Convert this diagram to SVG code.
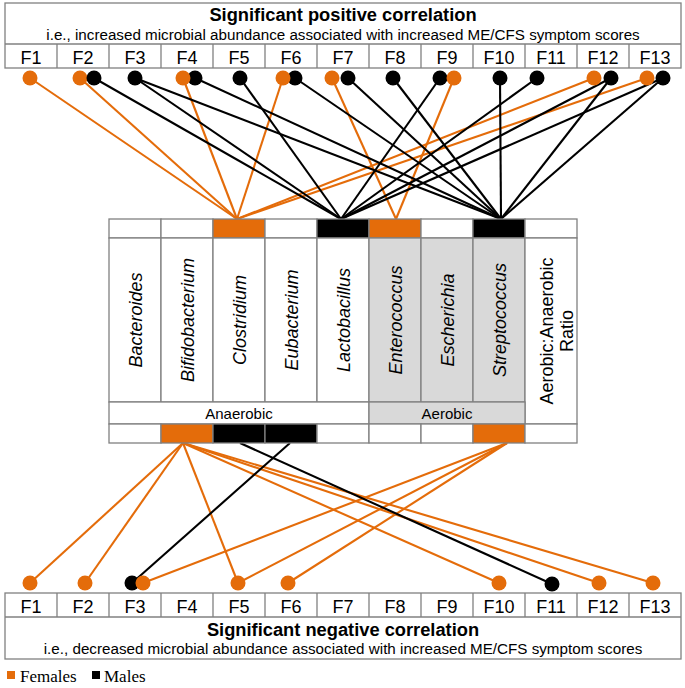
<svg xmlns="http://www.w3.org/2000/svg" width="685" height="688" viewBox="0 0 685 688">
<style>
.box{fill:#fff;stroke:#808080;stroke-width:1.3}
.gbox{fill:#d9d9d9;stroke:#808080;stroke-width:1.3}
.div{stroke:#808080;stroke-width:1.3}
.t{font-family:"Liberation Sans",Arial,Helvetica,sans-serif;fill:#000}
.ttl{font-size:18.3px;font-weight:bold;text-anchor:middle}
.sub{font-size:15.2px;text-anchor:middle}
.f{font-size:18px;text-anchor:middle}
.gen{font-size:18px;font-style:italic;text-anchor:middle}
.grp{font-size:15px;text-anchor:middle}
.or{fill:#e46c0a}
.bk{fill:#000}
.lo{stroke:#e46c0a;stroke-width:2.1;fill:none}
.lb{stroke:#000;stroke-width:2.1;fill:none}
.leg{font-family:"Liberation Serif","Times New Roman",serif;font-size:17px;fill:#000}
</style>

<g id="connectors">
  <line class="lo" x1="30" y1="78" x2="237" y2="219"/>
  <line class="lo" x1="80" y1="78" x2="237" y2="219"/>
  <line class="lo" x1="183" y1="78" x2="237" y2="219"/>
  <line class="lo" x1="283" y1="78" x2="237" y2="219"/>
  <line class="lo" x1="594" y1="78" x2="237" y2="219"/>
  <line class="lo" x1="647" y1="78" x2="237" y2="219"/>
  <line class="lo" x1="332" y1="78" x2="396" y2="219"/>
  <line class="lo" x1="454" y1="78" x2="396" y2="219"/>
  <line class="lb" x1="94" y1="78" x2="341" y2="219"/>
  <line class="lb" x1="135" y1="78" x2="341" y2="219"/>
  <line class="lb" x1="240" y1="78" x2="341" y2="219"/>
  <line class="lb" x1="440" y1="78" x2="341" y2="219"/>
  <line class="lb" x1="537" y1="78" x2="341" y2="219"/>
  <line class="lb" x1="611" y1="78" x2="341" y2="219"/>
  <line class="lb" x1="663" y1="78" x2="341" y2="219"/>
  <line class="lb" x1="135" y1="78" x2="501" y2="219"/>
  <line class="lb" x1="195" y1="78" x2="501" y2="219"/>
  <line class="lb" x1="295" y1="78" x2="501" y2="219"/>
  <line class="lb" x1="348" y1="78" x2="501" y2="219"/>
  <line class="lb" x1="393" y1="78" x2="501" y2="219"/>
  <line class="lb" x1="500" y1="78" x2="501" y2="219"/>
  <line class="lb" x1="611" y1="78" x2="501" y2="219"/>
  <line class="lb" x1="663" y1="78" x2="501" y2="219"/>
  <line class="lo" x1="183" y1="443" x2="30" y2="583"/>
  <line class="lo" x1="183" y1="443" x2="85" y2="583"/>
  <line class="lo" x1="183" y1="443" x2="238" y2="583"/>
  <line class="lo" x1="183" y1="443" x2="499" y2="583"/>
  <line class="lo" x1="183" y1="443" x2="599" y2="583"/>
  <line class="lo" x1="183" y1="443" x2="653" y2="583"/>
  <line class="lo" x1="507" y1="443" x2="143" y2="583"/>
  <line class="lo" x1="507" y1="443" x2="238" y2="583"/>
  <line class="lo" x1="507" y1="443" x2="288" y2="583"/>
  <line class="lb" x1="240" y1="443" x2="552" y2="584"/>
  <line class="lb" x1="290" y1="443" x2="132" y2="583"/>
</g>

<g id="top-header">
  <rect class="box" x="5" y="3" width="676" height="65"/>
  <line class="div" x1="5" y1="44" x2="681" y2="44"/>
  <g class="div">
    <line x1="57" y1="44" x2="57" y2="68"/><line x1="109" y1="44" x2="109" y2="68"/>
    <line x1="161" y1="44" x2="161" y2="68"/><line x1="213" y1="44" x2="213" y2="68"/>
    <line x1="265" y1="44" x2="265" y2="68"/><line x1="317" y1="44" x2="317" y2="68"/>
    <line x1="369" y1="44" x2="369" y2="68"/><line x1="421" y1="44" x2="421" y2="68"/>
    <line x1="473" y1="44" x2="473" y2="68"/><line x1="525" y1="44" x2="525" y2="68"/>
    <line x1="577" y1="44" x2="577" y2="68"/><line x1="629" y1="44" x2="629" y2="68"/>
  </g>
  <text class="t ttl" x="343" y="21">Significant positive correlation</text>
  <text class="t sub" x="343" y="40">i.e., increased microbial abundance associated with increased ME/CFS symptom scores</text>
  <g class="t f">
    <text x="31" y="64">F1</text><text x="83" y="64">F2</text><text x="135" y="64">F3</text>
    <text x="187" y="64">F4</text><text x="239" y="64">F5</text><text x="291" y="64">F6</text>
    <text x="343" y="64">F7</text><text x="395" y="64">F8</text><text x="447" y="64">F9</text>
    <text x="499" y="64">F10</text><text x="551" y="64">F11</text><text x="603" y="64">F12</text>
    <text x="655" y="64">F13</text>
  </g>
</g>

<g id="top-circles">
  <circle class="or" cx="30" cy="78" r="7.5"/>
  <circle class="or" cx="80" cy="78" r="7.5"/><circle class="bk" cx="94" cy="78" r="7.5"/>
  <circle class="bk" cx="135" cy="78" r="7.5"/>
  <circle class="bk" cx="195" cy="78" r="7.5"/><circle class="or" cx="183" cy="78" r="7.5"/>
  <circle class="bk" cx="240" cy="78" r="7.5"/>
  <circle class="bk" cx="295" cy="78" r="7.5"/><circle class="or" cx="283" cy="78" r="7.5"/>
  <circle class="or" cx="332" cy="78" r="7.5"/><circle class="bk" cx="348" cy="78" r="7.5"/>
  <circle class="bk" cx="393" cy="78" r="7.5"/>
  <circle class="bk" cx="440" cy="78" r="7.5"/><circle class="or" cx="454" cy="78" r="7.5"/>
  <circle class="bk" cx="500" cy="78" r="7.5"/>
  <circle class="bk" cx="537" cy="78" r="7.5"/>
  <circle class="or" cx="594" cy="78" r="7.5"/><circle class="bk" cx="611" cy="78" r="7.5"/>
  <circle class="or" cx="647" cy="78" r="7.5"/><circle class="bk" cx="663" cy="78" r="7.5"/>
</g>

<g id="table">
  <rect class="box" x="109" y="219" width="52" height="19"/>
  <rect class="box" x="161" y="219" width="52" height="19"/>
  <rect class="box" x="213" y="219" width="52" height="19" style="fill:#e46c0a"/>
  <rect class="box" x="265" y="219" width="52" height="19"/>
  <rect class="box" x="317" y="219" width="52" height="19" style="fill:#000"/>
  <rect class="box" x="369" y="219" width="52" height="19" style="fill:#e46c0a"/>
  <rect class="box" x="421" y="219" width="52" height="19"/>
  <rect class="box" x="473" y="219" width="52" height="19" style="fill:#000"/>
  <rect class="box" x="525" y="219" width="52" height="19"/>
  <g id="bacteroides"><rect class="box" x="109" y="238" width="52" height="164"/>
    <text class="t gen" transform="translate(141.5,320) rotate(-90)">Bacteroides</text></g>
  <g id="bifidobacterium"><rect class="box" x="161" y="238" width="52" height="164"/>
    <text class="t gen" transform="translate(193.5,320) rotate(-90)">Bifidobacterium</text></g>
  <g id="clostridium"><rect class="box" x="213" y="238" width="52" height="164"/>
    <text class="t gen" transform="translate(245.5,320) rotate(-90)">Clostridium</text></g>
  <g id="eubacterium"><rect class="box" x="265" y="238" width="52" height="164"/>
    <text class="t gen" transform="translate(297.5,320) rotate(-90)">Eubacterium</text></g>
  <g id="lactobacillus"><rect class="box" x="317" y="238" width="52" height="164"/>
    <text class="t gen" transform="translate(349.5,320) rotate(-90)">Lactobacillus</text></g>
  <g id="enterococcus"><rect class="gbox" x="369" y="238" width="52" height="164"/>
    <text class="t gen" transform="translate(401.5,320) rotate(-90)">Enterococcus</text></g>
  <g id="escherichia"><rect class="gbox" x="421" y="238" width="52" height="164"/>
    <text class="t gen" transform="translate(453.5,320) rotate(-90)">Escherichia</text></g>
  <g id="streptococcus"><rect class="gbox" x="473" y="238" width="52" height="164"/>
    <text class="t gen" transform="translate(505.5,320) rotate(-90)">Streptococcus</text></g>
  <g id="ratio"><rect class="box" x="525" y="238" width="52" height="186"/>
    <text class="t gen" style="font-style:normal" transform="translate(553,331) rotate(-90)">Aerobic:Anaerobic</text>
    <text class="t gen" style="font-style:normal" transform="translate(573,331) rotate(-90)">Ratio</text></g>
  <g id="anaerobic"><rect class="box" x="109" y="402" width="260" height="22"/>
    <text class="t grp" x="239" y="418.5">Anaerobic</text></g>
  <g id="aerobic"><rect class="gbox" x="369" y="402" width="156" height="22"/>
    <text class="t grp" x="447" y="418.5">Aerobic</text></g>
  <rect class="box" x="109" y="424" width="52" height="19"/>
  <rect class="box" x="161" y="424" width="52" height="19" style="fill:#e46c0a"/>
  <rect class="box" x="213" y="424" width="52" height="19" style="fill:#000"/>
  <rect class="box" x="265" y="424" width="52" height="19" style="fill:#000"/>
  <rect class="box" x="317" y="424" width="52" height="19"/>
  <rect class="box" x="369" y="424" width="52" height="19"/>
  <rect class="box" x="421" y="424" width="52" height="19"/>
  <rect class="box" x="473" y="424" width="52" height="19" style="fill:#e46c0a"/>
  <rect class="box" x="525" y="424" width="52" height="19"/>
</g>

<g id="bottom-circles">
  <circle class="or" cx="30" cy="583" r="7.5"/>
  <circle class="or" cx="85" cy="583" r="7.5"/>
  <circle class="bk" cx="132" cy="583" r="7.5"/><circle class="or" cx="143" cy="583" r="7.5"/>
  <circle class="or" cx="238" cy="583" r="7.5"/>
  <circle class="or" cx="288" cy="583" r="7.5"/>
  <circle class="or" cx="499" cy="583" r="7.5"/>
  <circle class="bk" cx="552" cy="584" r="7.5"/>
  <circle class="or" cx="599" cy="583" r="7.5"/>
  <circle class="or" cx="653" cy="583" r="7.5"/>
</g>

<g id="bottom-header">
  <rect class="box" x="5" y="593" width="676" height="66"/>
  <line class="div" x1="5" y1="617" x2="681" y2="617"/>
  <g class="div">
    <line x1="57" y1="593" x2="57" y2="617"/><line x1="109" y1="593" x2="109" y2="617"/>
    <line x1="161" y1="593" x2="161" y2="617"/><line x1="213" y1="593" x2="213" y2="617"/>
    <line x1="265" y1="593" x2="265" y2="617"/><line x1="317" y1="593" x2="317" y2="617"/>
    <line x1="369" y1="593" x2="369" y2="617"/><line x1="421" y1="593" x2="421" y2="617"/>
    <line x1="473" y1="593" x2="473" y2="617"/><line x1="525" y1="593" x2="525" y2="617"/>
    <line x1="577" y1="593" x2="577" y2="617"/><line x1="629" y1="593" x2="629" y2="617"/>
  </g>
  <g class="t f">
    <text x="31" y="612.5">F1</text><text x="83" y="612.5">F2</text><text x="135" y="612.5">F3</text>
    <text x="187" y="612.5">F4</text><text x="239" y="612.5">F5</text><text x="291" y="612.5">F6</text>
    <text x="343" y="612.5">F7</text><text x="395" y="612.5">F8</text><text x="447" y="612.5">F9</text>
    <text x="499" y="612.5">F10</text><text x="551" y="612.5">F11</text><text x="603" y="612.5">F12</text>
    <text x="655" y="612.5">F13</text>
  </g>
  <text class="t ttl" x="343" y="636">Significant negative correlation</text>
  <text class="t sub" x="343" y="654">i.e., decreased microbial abundance associated with increased ME/CFS symptom scores</text>
</g>

<g id="legend">
  <rect x="7" y="671" width="8" height="8" class="or"/>
  <text class="leg" x="20" y="682">Females</text>
  <rect x="92" y="671" width="8" height="8" class="bk"/>
  <text class="leg" x="104" y="682">Males</text>
</g>
</svg>
